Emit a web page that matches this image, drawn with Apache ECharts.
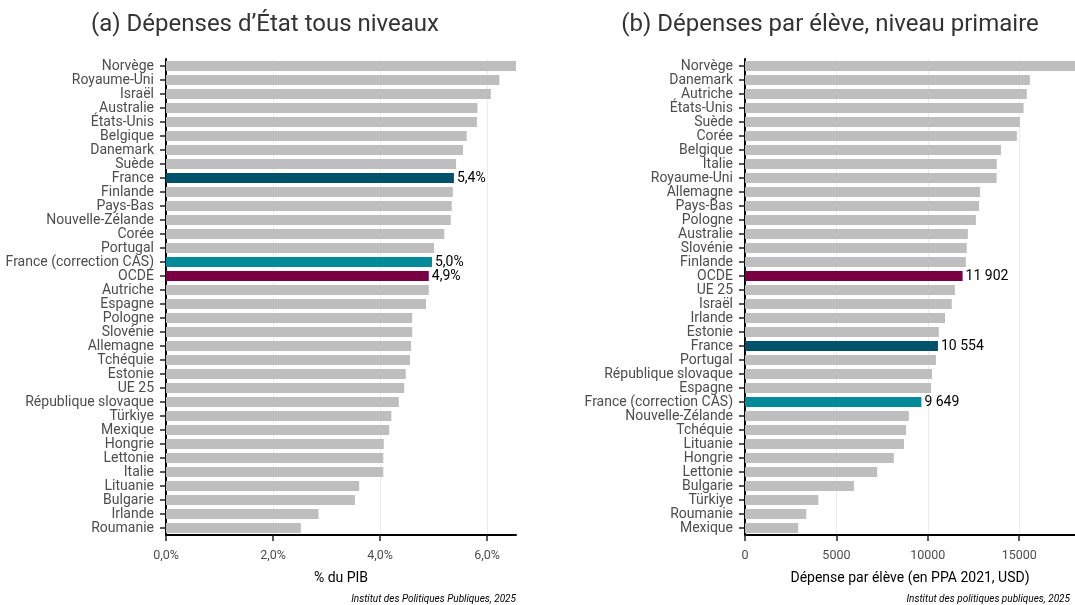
<!DOCTYPE html>
<html><head><meta charset="utf-8">
<script src="https://cdn.jsdelivr.net/npm/echarts@6/dist/echarts.min.js"></script>
<style>html,body{margin:0;padding:0;background:#fff}#c{width:1075px;height:605px}</style>
</head><body><div id="c"></div>
<script>
const leftCategories = ["Norvège","Royaume-Uni","Israël","Australie","États-Unis","Belgique","Danemark","Suède","France","Finlande","Pays-Bas","Nouvelle-Zélande","Corée","Portugal","France (correction CAS)","OCDE","Autriche","Espagne","Pologne","Slovénie","Allemagne","Tchéquie","Estonie","UE 25","République slovaque","Türkiye","Mexique","Hongrie","Lettonie","Italie","Lituanie","Bulgarie","Irlande","Roumanie"];
const leftValues = [6.54,6.23,6.07,5.82,5.81,5.62,5.55,5.42,5.38,5.36,5.34,5.32,5.20,5.01,4.97,4.91,4.91,4.86,4.60,4.60,4.58,4.56,4.48,4.45,4.35,4.21,4.17,4.07,4.06,4.06,3.61,3.53,2.85,2.52];
const leftTicks = [0,2,4,6];

const rightCategories = ["Norvège","Danemark","Autriche","États-Unis","Suède","Corée","Belgique","Italie","Royaume-Uni","Allemagne","Pays-Bas","Pologne","Australie","Slovénie","Finlande","OCDE","UE 25","Israël","Irlande","Estonie","France","Portugal","République slovaque","Espagne","France (correction CAS)","Nouvelle-Zélande","Tchéquie","Lituanie","Hongrie","Lettonie","Bulgarie","Türkiye","Roumanie","Mexique"];
const rightValues = [18050,15580,15410,15240,15040,14870,14000,13770,13760,12860,12800,12630,12190,12130,12080,11902,11480,11310,10940,10600,10554,10450,10230,10180,9649,8960,8810,8700,8140,7230,5960,4010,3350,2910];
const rightTicks = [0,5000,10000,15000];

const highlight = {"France":"#00526A","France (correction CAS)":"#008A9A","OCDE":"#7B0043"};
const GREY = "#BEBEBE";
const FONT = "Roboto";

function fmtPct(v){ return v.toFixed(1).replace('.', ',') + '%'; }
function fmtNum(v){ return String(Math.round(v)).replace(/\B(?=(\d{3})+(?!\d))/g, ' '); }

function buildData(cats, vals, fmt){
  return cats.map((c,i)=>{
    const col = highlight[c];
    const d = {value: vals[i], itemStyle:{color: col || GREY}};
    if (col) d.label = {show:true, position:'right', distance:3, color:'#000', fontSize:14, fontFamily:FONT, formatter: ()=>fmt(vals[i])};
    return d;
  });
}

const gridTop = 59, gridBottom = 605-535;
const chart = echarts.init(document.getElementById('c'), null, {renderer:'canvas'});
const yAxisCommon = {
  type:'category', inverse:true,
  axisLine:{show:true, lineStyle:{color:'#000', width:2}},
  axisTick:{show:true, alignWithLabel:true, interval:0, length:6, lineStyle:{color:'#222', width:1.5}},
  axisLabel:{color:'#4D4D4D', fontSize:14, fontFamily:FONT, margin:12, interval:0},
  splitLine:{show:false}
};
const xAxisCommon = {
  type:'value', min:0,
  axisLine:{show:true, onZero:false, lineStyle:{color:'#000', width:2}},
  axisTick:{show:true, length:6, lineStyle:{color:'#222', width:1.5}},
  axisLabel:{color:'#4D4D4D', fontSize:12.5, fontFamily:FONT, margin:14},
  splitLine:{show:true, lineStyle:{color:'#EBEBEB', width:1}},
  nameLocation:'middle', nameGap:36,
  nameTextStyle:{color:'#000', fontSize:14, fontFamily:FONT}
};

chart.setOption({
  animation:false,
  title:[
    {text:"(a) Dépenses d’État tous niveaux", left:260, top:8, textAlign:'center', textStyle:{fontFamily:FONT, fontWeight:'normal', fontSize:24, color:'#333'}},
    {text:"(b) Dépenses par élève, niveau primaire", left:825, top:8, textAlign:'center', textStyle:{fontFamily:FONT, fontWeight:'normal', fontSize:24, color:'#333'}}
  ],
  grid:[
    {left:166, width:350, top:gridTop, bottom:gridBottom, containLabel:false},
    {left:745, right:0, top:gridTop, bottom:gridBottom, containLabel:false}
  ],
  xAxis:[
    Object.assign({}, xAxisCommon, {gridIndex:0, max:leftValues[0], interval:2, name:'% du PIB',
      axisLabel:Object.assign({}, xAxisCommon.axisLabel, {customValues:leftTicks, formatter:v=>fmtPct(v)}),
      axisTick:Object.assign({}, xAxisCommon.axisTick, {customValues:leftTicks})}),
    Object.assign({}, xAxisCommon, {gridIndex:1, max:rightValues[0], interval:5000, name:'Dépense par élève (en PPA 2021, USD)',
      axisLabel:Object.assign({}, xAxisCommon.axisLabel, {customValues:rightTicks, formatter:v=>String(v)}),
      axisTick:Object.assign({}, xAxisCommon.axisTick, {customValues:rightTicks})})
  ],
  yAxis:[
    Object.assign({}, yAxisCommon, {gridIndex:0, data:leftCategories}),
    Object.assign({}, yAxisCommon, {gridIndex:1, data:rightCategories})
  ],
  series:[
    {type:'bar', xAxisIndex:0, yAxisIndex:0, barWidth:'72%', data:buildData(leftCategories,leftValues,fmtPct), label:{show:false}},
    {type:'bar', xAxisIndex:1, yAxisIndex:1, barWidth:'72%', data:buildData(rightCategories,rightValues,fmtNum), label:{show:false}}
  ],
  graphic:[
    {type:'text', right:1075-516, top:594, style:{text:'Institut des Politiques Publiques, 2025', font:'italic 10px Roboto', fill:'#000', textAlign:'right'}},
    {type:'text', right:5, top:594, style:{text:'Institut des politiques publiques, 2025', font:'italic 10px Roboto', fill:'#000', textAlign:'right'}}
  ]
});
</script></body></html>
